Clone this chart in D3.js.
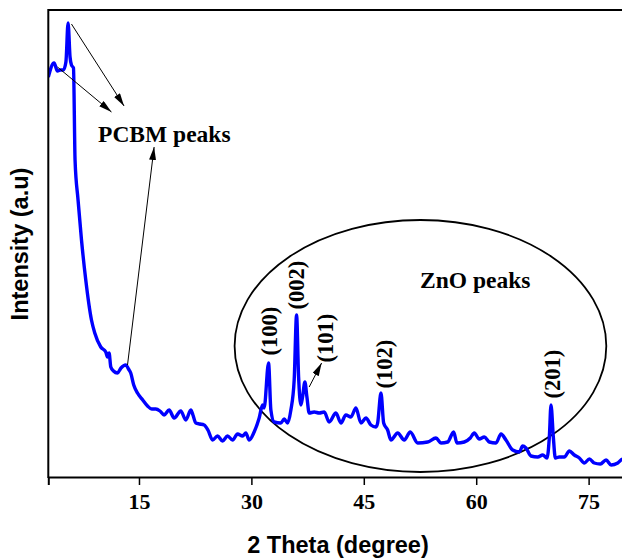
<!DOCTYPE html>
<html>
<head>
<meta charset="utf-8">
<script src="https://cdn.jsdelivr.net/npm/d3@7"></script>
<style>
  body { margin: 0; background: #fff; }
  svg { display: block; }
</style>
</head>
<body>
<div id="chart"></div>
<script>
// XRD pattern, 2 theta (degree) vs intensity (a.u)
var twoTheta = [2.9, 3.67, 4.12, 4.5, 4.92, 5.25, 5.54, 5.8, 5.99, 6.26, 6.47, 6.87, 7.33, 7.9, 8.66, 9.1, 9.9,
  10.57, 10.8, 11.01, 11.24, 11.6, 12.13, 12.6, 13.24, 13.6, 13.9, 14.3, 14.8, 15.5, 16.14, 16.7, 17.25, 17.8,
  18.35, 19.02, 19.69, 20.58, 21.25, 21.92, 22.2, 22.58, 23.1, 23.69, 24.2, 24.82, 25.48, 26.15, 26.82, 27.49,
  28.15, 28.82, 29.26, 29.7, 30.37, 31.04, 31.49, 31.7, 32.29, 32.6, 33.04, 33.93, 34.38, 34.83, 35.27, 35.71,
  36.03, 36.3, 36.6, 36.83, 37.14, 37.41, 37.71, 38.38, 39.05, 39.72, 40.38, 41.28, 41.95, 42.61, 43.28, 43.95,
  44.62, 45.29, 45.95, 46.62, 46.85, 47.29, 47.65, 48.18, 48.62, 49.52, 50.4, 51.2, 52.19, 53.52, 54.63, 55.3,
  56.19, 56.99, 57.43, 58.41, 59.21, 59.74, 60.41, 61.08, 61.75, 62.64, 63.31, 63.97, 64.87, 65.75, 66.2, 66.64,
  67.31, 68.21, 68.88, 69.45, 69.76, 69.98, 70.29, 70.56, 71.09, 71.76, 72.43, 73.09, 73.76, 74.43, 75.1, 75.76,
  76.56, 77.33, 78.0, 78.89, 79.56, 80.0];
var intensity = [400, 414, 406, 407, 407, 415, 454, 420, 412, 409, 317, 277, 237, 197, 157, 144, 130,
  125, 120, 124, 110, 106, 104, 109, 112, 108, 104, 92, 84, 77, 71, 68, 68, 66,
  62, 67, 59, 66, 57, 67, 62, 54, 53, 52, 47, 37, 41, 36, 41, 37,
  43, 41, 44, 37, 45, 59, 72, 69, 114, 67, 55, 54, 58, 54, 67, 97,
  162, 100, 72, 80, 95, 80, 64, 65, 64, 65, 55, 64, 54, 62, 60, 69,
  54, 59, 52, 50, 54, 84, 54, 47, 37, 44, 37, 45, 34, 35, 39, 34,
  35, 45, 34, 35, 39, 44, 38, 40, 35, 34, 43, 37, 27, 25, 31, 29,
  21, 20, 22, 19, 40, 72, 40, 19, 20, 20, 26, 22, 19, 14, 18, 14,
  13, 17, 12, 14, 18, 17];
var xTicks = [15, 30, 45, 60, 75];

// peak labels (Miller indices) and where they sit
var peakNames = ["(100)", "(002)", "(101)", "(102)", "(201)"];
var peakLabelX = [32.37, 36.05, 39.9, 47.7, 70.1];
var peakLabelY = [146, 192, 139, 113, 103];

// annotation arrows [x1, y1, x2, y2] in data units
var arrows = [
  [5.99, 453, 13.01, 371],
  [4.12, 410, 11.33, 365],
  [13.47, 112, 17.02, 330],
  [37.71, 90, 39.37, 114]
];

var width = 622, height = 559;

var x = d3.scaleLinear().domain([2.9, 80]).range([48.3, 48.3 + 77.1 * 7.494]);
var y = d3.scaleLinear().domain([0, 467]).range([477, 10]);

var svg = d3.select("#chart").append("svg")
  .attr("width", width)
  .attr("height", height);

var defs = svg.append("defs");
defs.append("clipPath").attr("id", "clip")
  .append("rect")
  .attr("x", 48.3).attr("y", 10)
  .attr("width", width - 48.3).attr("height", 467);

defs.append("marker")
  .attr("id", "head")
  .attr("viewBox", "0 0 13 7")
  .attr("refX", 13).attr("refY", 3.5)
  .attr("markerWidth", 13).attr("markerHeight", 7)
  .attr("markerUnits", "userSpaceOnUse")
  .attr("orient", "auto")
  .append("path")
  .attr("d", "M0,0 L13,3.5 L0,7 Z")
  .attr("fill", "#000");

var data = twoTheta.map(function(t, i) { return { t: t, v: intensity[i] }; });

var line = d3.line()
  .x(function(d) { return x(d.t); })
  .y(function(d) { return y(d.v); })
  .curve(d3.curveMonotoneX);

// ellipse around ZnO peaks
svg.append("ellipse")
  .attr("cx", x(52.56))
  .attr("cy", y(131))
  .attr("rx", x(52.56 + 24.8) - x(52.56))
  .attr("ry", y(0) - y(126))
  .attr("fill", "none")
  .attr("stroke", "#000")
  .attr("stroke-width", 1.8);

svg.append("path")
  .datum(data)
  .attr("clip-path", "url(#clip)")
  .attr("d", line)
  .attr("fill", "none")
  .attr("stroke", "#0000ff")
  .attr("stroke-width", 3.4)
  .attr("stroke-linejoin", "round");

// frame
svg.append("line")
  .attr("x1", 48.3).attr("x2", width)
  .attr("y1", 10).attr("y2", 10)
  .attr("stroke", "#000").attr("stroke-width", 2);

svg.append("line")
  .attr("x1", 48.3).attr("x2", 48.3)
  .attr("y1", 9).attr("y2", 478)
  .attr("stroke", "#000").attr("stroke-width", 2);

var xAxis = svg.append("g")
  .attr("transform", "translate(0,477)")
  .call(d3.axisBottom(x).tickValues(xTicks).tickSizeOuter(0).tickSize(8).tickPadding(8));

xAxis.select(".domain").attr("stroke-width", 2);
xAxis.selectAll(".tick line").attr("stroke-width", 1.5);
xAxis.selectAll("text")
  .attr("fill", "#000")
  .style("font-family", "'Liberation Serif', 'Times New Roman', serif")
  .style("font-weight", "bold")
  .style("font-size", "22px");

// arrows
svg.selectAll(".arrow")
  .data(arrows)
  .enter().append("line")
  .attr("class", "arrow")
  .attr("x1", function(d) { return x(d[0]); })
  .attr("y1", function(d) { return y(d[1]); })
  .attr("x2", function(d) { return x(d[2]); })
  .attr("y2", function(d) { return y(d[3]); })
  .attr("stroke", "#000")
  .attr("stroke-width", 1)
  .attr("marker-end", "url(#head)");

var serif = "'Liberation Serif', 'Times New Roman', serif";

svg.append("text")
  .attr("x", x(9.54)).attr("y", y(335))
  .style("font-family", serif).style("font-weight", "bold").style("font-size", "23.5px")
  .text("PCBM peaks");

svg.append("text")
  .attr("x", x(52.5)).attr("y", y(189))
  .style("font-family", serif).style("font-weight", "bold").style("font-size", "23.5px")
  .text("ZnO peaks");

svg.selectAll(".peak")
  .data(peakNames)
  .enter().append("text")
  .attr("class", "peak")
  .attr("transform", function(d, i) {
    return "translate(" + x(peakLabelX[i]) + "," + y(peakLabelY[i]) + ") rotate(-90)";
  })
  .attr("text-anchor", "middle")
  .attr("dy", "0.34em")
  .style("font-family", serif).style("font-weight", "bold").style("font-size", "22.5px")
  .text(function(d) { return d; });

// axis titles
var sans = "'Liberation Sans', Arial, sans-serif";
svg.append("text")
  .attr("x", 338).attr("y", 553)
  .attr("text-anchor", "middle")
  .style("font-family", sans).style("font-weight", "bold").style("font-size", "23.5px")
  .text("2 Theta (degree)");

svg.append("text")
  .attr("transform", "translate(28,244) rotate(-90)")
  .attr("text-anchor", "middle")
  .style("font-family", sans).style("font-weight", "bold").style("font-size", "23.5px")
  .text("Intensity (a.u)");
</script>
</body>
</html>
